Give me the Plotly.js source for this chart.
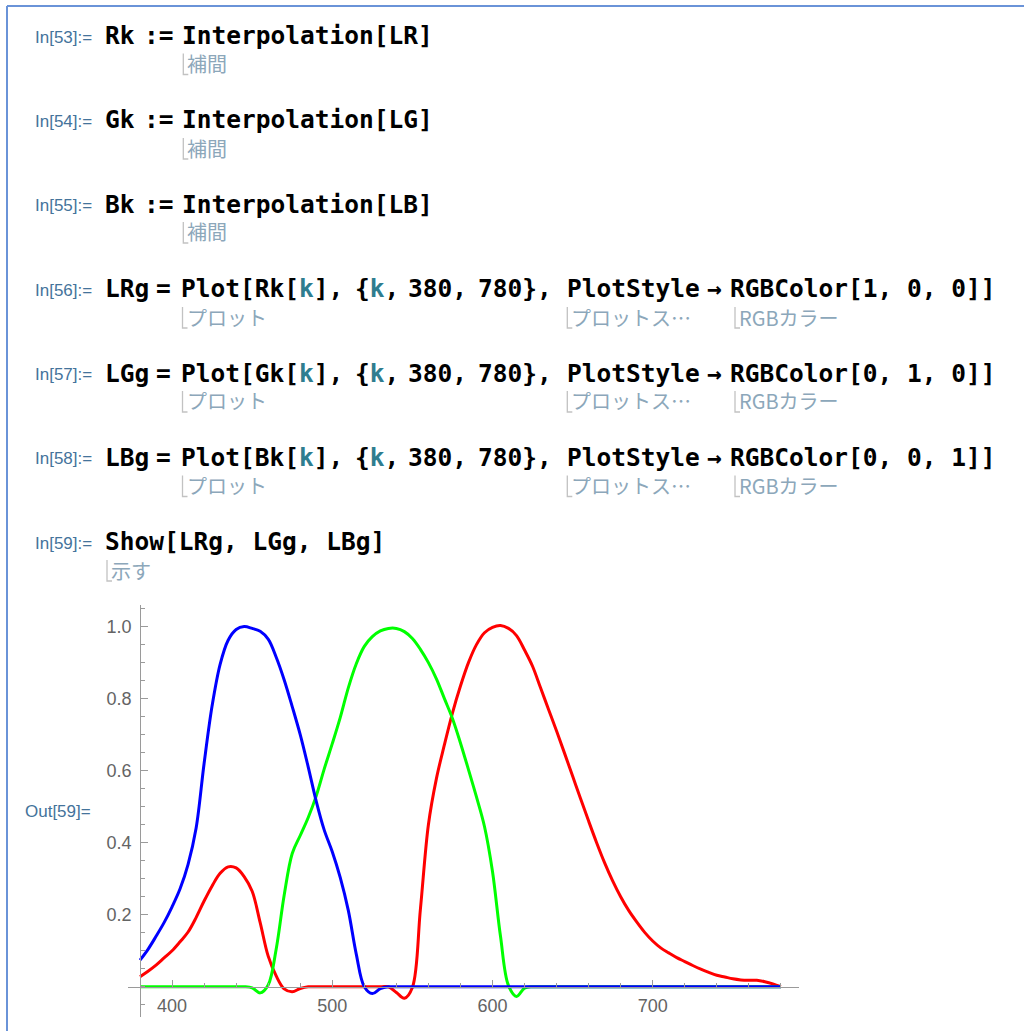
<!DOCTYPE html>
<html>
<head>
<meta charset="utf-8">
<script src="https://cdn.plot.ly/plotly-3.0.1.min.js"></script>
<style>html,body{margin:0;padding:0;background:#fff;}#chart{width:1024px;height:1031px;}</style>
</head>
<body>
<div id="chart"></div>
<script>
// ---------------- data ----------------
const redX = [380,385,390,395,400,405,410,415,420,425,430,435,440,445,450,455,460,465,470,475,480,485,490,
              530,535,540,545,550,555,560,565,570,575,580,585,590,595,600,605,610,615,620,625,630,635,640,645,650,
              655,660,665,670,675,680,685,690,695,700,705,710,715,720,725,730,735,740,745,750,755,760,765,770,775,780];
const redY = [0.028,0.043,0.06,0.08,0.10,0.125,0.152,0.192,0.238,0.28,0.315,0.333,0.33,0.306,0.265,0.178,0.085,0.03,-0.006,-0.014,-0.005,0,0,
              0,0,-0.016,-0.032,-0.002,0.215,0.45,0.578,0.672,0.76,0.835,0.9,0.95,0.983,0.998,1.003,0.995,0.975,0.935,0.89,0.83,0.77,0.71,0.648,0.585,
              0.522,0.46,0.4,0.344,0.294,0.25,0.212,0.18,0.151,0.127,0.108,0.094,0.081,0.07,0.059,0.049,0.04,0.032,0.027,0.022,0.019,0.018,0.018,0.014,0.008,0.0];

const greenX = [380,400,420,440,445,450,455,460,465,470,475,480,485,490,495,500,505,510,515,520,525,530,535,540,545,550,
                555,560,565,570,575,580,585,590,595,600,605,610,615,620,625,630,640,700,780];
const greenY = [0,0,0,0,0,-0.003,-0.017,0.005,0.105,0.255,0.37,0.42,0.47,0.53,0.605,0.675,0.748,0.83,0.897,0.945,0.972,0.988,0.995,0.995,0.986,0.967,
                0.937,0.9,0.855,0.8,0.745,0.677,0.603,0.527,0.445,0.32,0.14,0.003,-0.027,-0.004,0,0,0,0,0];

const blueX = [380,385,390,395,400,405,410,415,420,425,430,435,440,445,450,455,460,465,470,475,480,485,490,495,500,505,510,515,520,525,530,535,540,600,700,780];
const blueY = [0.074,0.104,0.14,0.178,0.222,0.272,0.34,0.44,0.62,0.78,0.895,0.962,0.992,1.0,0.995,0.987,0.965,0.915,0.852,0.778,0.70,0.61,0.515,0.435,0.375,0.303,0.212,0.09,0.0,-0.019,-0.005,0,0,0,0,0];

const xTickVals = [400,500,600,700];
const xTickText = ["400","500","600","700"];
const yTickVals = [0.2,0.4,0.6,0.8,1.0];
const yTickText = ["0.2","0.4","0.6","0.8","1.0"];

// ---------------- notebook text ----------------
const K = '<span style="color:#2f7d8f">k</span>';
const interpRow = (y, name, arg, subY, label) => ({
  y:y, label:label, subY:subY,
  segs:[[106.7,name],[146,':='],[184.3,'Interpolation['+arg+']']],
  subs:[[183.3,'補間']]
});
const plotRow = (y, name, fn, rgb, subY, label) => ({
  y:y, label:label, subY:subY,
  segs:[[107,name],[158,'='],[183,'Plot['+fn+'['+K+'],'],[356.8,'{'+K+','],[410,'380,'],[480,'780},'],
        [568.6,'PlotStyle'],[708.7,'→'],[732.3,'RGBColor['+rgb+']]']],
  subs:[[182.5,'プロット'],[567.3,'プロットス…'],[735,'RGBカラー']]
});
const rows = [
  interpRow(35.5, 'Rk', 'LR', 63.5, 'In[53]:='),
  interpRow(120, 'Gk', 'LG', 148, 'In[54]:='),
  interpRow(204, 'Bk', 'LB', 232, 'In[55]:='),
  plotRow(289, 'LRg', 'Rk', '1, 0, 0', 317, 'In[56]:='),
  plotRow(373, 'LGg', 'Gk', '0, 1, 0', 401, 'In[57]:='),
  plotRow(457.5, 'LBg', 'Bk', '0, 0, 1', 485.5, 'In[58]:='),
  {y:541.5, label:'In[59]:=', segs:[[106.7,'Show[LRg, LGg, LBg]']], subY:570, subs:[[107,'示す']]}
];

const W = 1024, H = 1031;
const px = x => x / W;
const py = y => 1 - y / H;

const annotations = [];
const shapes = [];
const codeFont = {family:'DejaVu Sans Mono', size:24.5, color:'#000', weight:700};
const labelFont = {family:'Liberation Sans, Arial, sans-serif', size:17, color:'#44739b'};
const subFont = {family:'Noto Sans CJK JP', size:20, color:'#8ca7ba'};

rows.forEach(r => {
  annotations.push({xref:'paper', yref:'paper', x:px(34), y:py(r.y + 1.5), xanchor:'left', yanchor:'middle',
    text:r.label, showarrow:false, font:labelFont, borderpad:0});
  r.segs.forEach(s => {
    annotations.push({xref:'paper', yref:'paper', x:px(s[0] - 3), y:py(r.y), xanchor:'left', yanchor:'middle',
      text:s[1], showarrow:false, font:codeFont, borderpad:0});
  });
  r.subs.forEach(s => {
    annotations.push({xref:'paper', yref:'paper', x:px(s[0] + 3), y:py(r.subY), xanchor:'left', yanchor:'middle',
      text:s[1], showarrow:false, font:subFont, borderpad:0});
    shapes.push({type:'path', xref:'paper', yref:'paper',
      path:`M ${px(s[0])} ${py(r.subY - 10)} L ${px(s[0])} ${py(r.subY + 11)} L ${px(s[0] + 5)} ${py(r.subY + 11)}`,
      line:{color:'#c2c2c2', width:1.3}});
  });
});
annotations.push({xref:'paper', yref:'paper', x:px(24), y:py(811), xanchor:'left', yanchor:'middle',
  text:'Out[59]=', showarrow:false, font:labelFont, borderpad:0});

// notebook cell frame
shapes.push({type:'line', xref:'paper', yref:'paper', x0:px(7), x1:px(1030), y0:py(6), y1:py(6), line:{color:'#6a93d8', width:2}});
shapes.push({type:'line', xref:'paper', yref:'paper', x0:px(7), x1:px(7), y0:py(6), y1:py(1040), line:{color:'#6a93d8', width:2}});

// ---------------- plot ----------------
const lineW = 3;
const traces = [
  {x:redX, y:redY, type:'scatter', mode:'lines', line:{color:'#ff0000', width:lineW, shape:'spline', smoothing:1.0}, hoverinfo:'skip'},
  {x:greenX, y:greenY, type:'scatter', mode:'lines', line:{color:'#00ff00', width:lineW, shape:'spline', smoothing:1.0}, hoverinfo:'skip'},
  {x:blueX, y:blueY, type:'scatter', mode:'lines', line:{color:'#0000ff', width:lineW, shape:'spline', smoothing:1.0}, hoverinfo:'skip'}
];

const axisColor = '#9a9a9a';
const tickFont = {family:'Liberation Sans, Arial, sans-serif', size:18, color:'#646464'};
const layout = {
  width:W, height:H, margin:{l:0, r:0, t:0, b:0},
  paper_bgcolor:'#ffffff', plot_bgcolor:'rgba(0,0,0,0)', showlegend:false,
  xaxis:{domain:[128/W, 798.5/W], range:[372.5, 791], anchor:'free', position:(H - 986.7)/H,
    showline:true, linecolor:axisColor, linewidth:1, showgrid:false, zeroline:false,
    ticks:'inside', ticklen:7, tickwidth:1, tickcolor:axisColor, ticklabelstandoff:3,
    tickmode:'array', tickvals:xTickVals, ticktext:xTickText, tickfont:tickFont,
    minor:{tickmode:'linear', tick0:0, dtick:20, ticks:'inside', ticklen:4, tickcolor:axisColor, showgrid:false},
    fixedrange:true},
  yaxis:{domain:[(H - 1017)/H, (H - 605)/H], range:[-0.084, 1.06], anchor:'free', position:140.1/W,
    showline:true, linecolor:axisColor, linewidth:1, showgrid:false, zeroline:false,
    ticks:'inside', ticklen:7, tickwidth:1, tickcolor:axisColor, ticklabelstandoff:5,
    tickmode:'array', tickvals:yTickVals, ticktext:yTickText, tickfont:tickFont,
    minor:{tickmode:'linear', tick0:0, dtick:0.05, ticks:'inside', ticklen:4, tickcolor:axisColor, showgrid:false},
    fixedrange:true},
  annotations:annotations,
  shapes:shapes
};

Plotly.newPlot('chart', traces, layout, {displayModeBar:false, staticPlot:true});
</script>
</body>
</html>
